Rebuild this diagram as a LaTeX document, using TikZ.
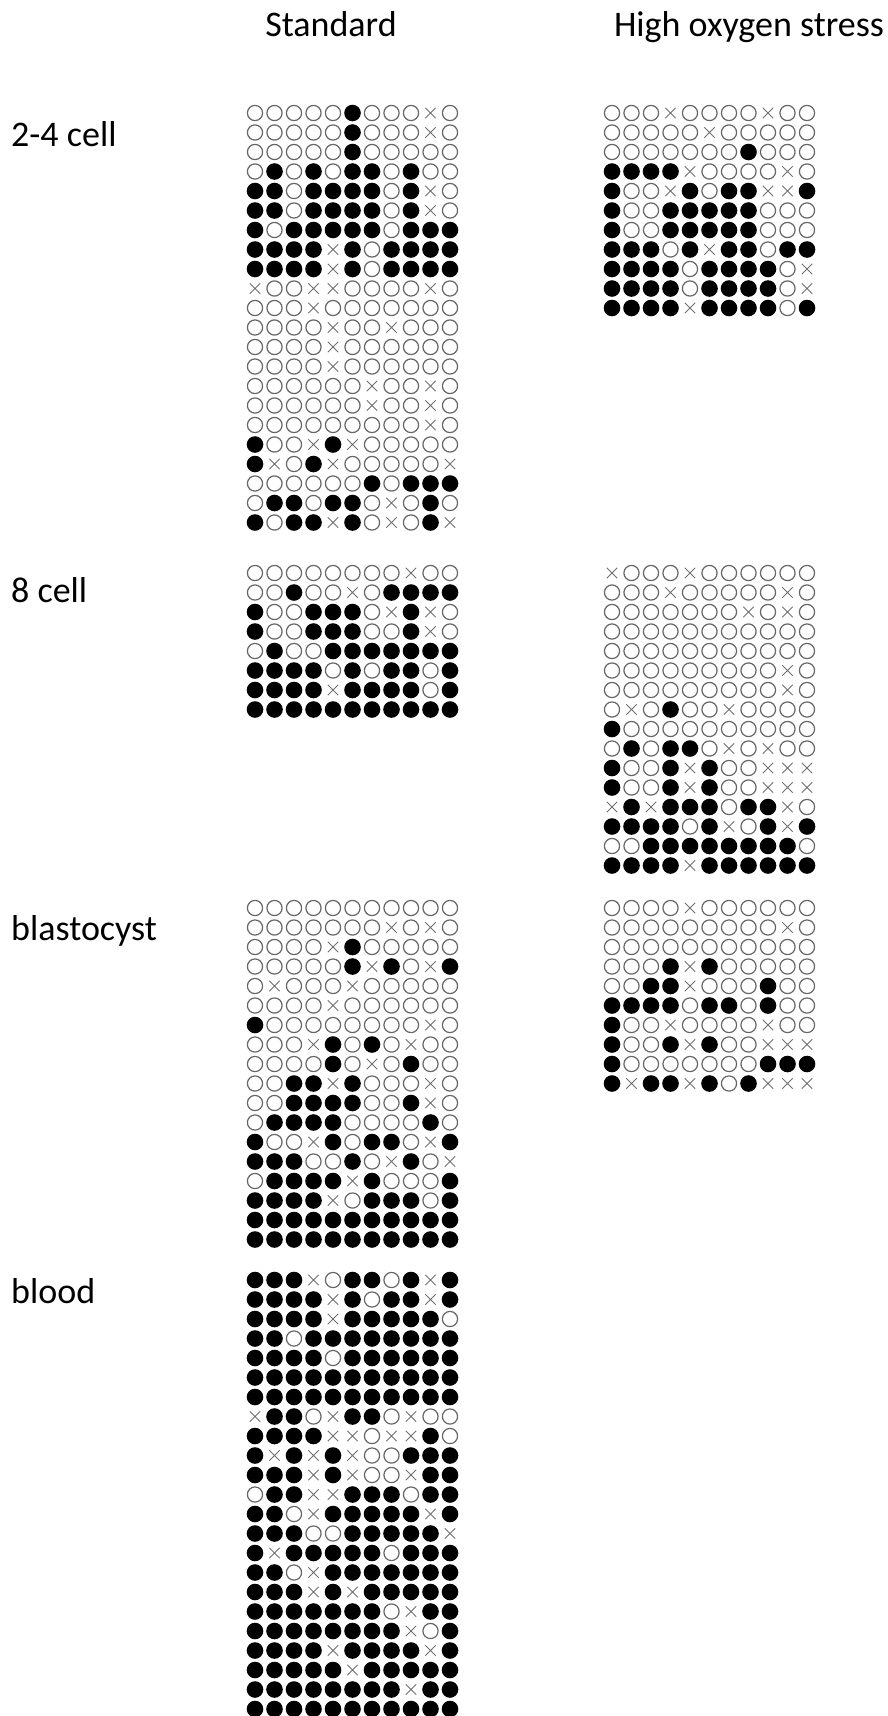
\documentclass[tikz,border=0pt]{standalone}
\usepackage{fontspec}
\setmainfont{Carlito}
\definecolor{ringgray}{HTML}{666666}
\definecolor{crossgray}{HTML}{707070}
\tikzset{
  mo/.pic={\draw[draw=ringgray, line width=1.2pt] (0,0) circle (7.6pt);},
  mb/.pic={\fill[black] (0,0) circle (8.3pt);},
  mx/.pic={\draw[draw=crossgray, line width=0.9pt] (-5.2pt,-5.2pt)--(5.2pt,5.2pt) (-5.2pt,5.2pt)--(5.2pt,-5.2pt);},
  lab/.style={font=\fontsize{36}{43}\selectfont, inner sep=0pt}
}
\newcommand\methgrid[3]{%
  \foreach \r [count=\j from 0] in {#3} {
    \foreach \c [count=\i from 0] in \r {
      \pic at ({#1+\i*19.5},{#2+\j*19.5}) {m\c};
    }
  }%
}
\begin{document}
\begin{tikzpicture}[x=1pt,y=-1pt]
\useasboundingbox (0,0) rectangle (888,1716);
\node[lab, anchor=base] (tstd) at (331,36) {Standard};
\node[lab, anchor=base] (thos) at (749,36) {High oxygen stress};
\node[lab, anchor=base west] (l24) at (11,146) {2-4 cell};
\node[lab, anchor=base west] (l8) at (11,602) {8 cell};
\node[lab, anchor=base west] (lbl) at (11,940) {blastocyst};
\node[lab, anchor=base west] (lbo) at (11,1303) {blood};

% Standard 2-4 cell
\methgrid{255}{113}{
{o,o,o,o,o,b,o,o,o,x,o},
{o,o,o,o,o,b,o,o,o,x,o},
{o,o,o,o,o,b,o,o,o,o,o},
{o,b,o,b,o,b,b,o,b,o,o},
{b,b,o,b,b,b,b,o,b,x,o},
{b,b,o,b,b,b,b,o,b,x,o},
{b,o,b,b,b,b,b,o,b,b,b},
{b,b,b,b,x,b,o,b,b,b,b},
{b,b,b,b,x,b,o,b,b,b,b},
{x,o,o,x,x,o,o,o,o,x,o},
{o,o,o,x,o,o,o,o,o,o,o},
{o,o,o,o,x,o,o,x,o,o,o},
{o,o,o,o,x,o,o,o,o,o,o},
{o,o,o,o,x,o,o,o,o,o,o},
{o,o,o,o,o,o,x,o,o,x,o},
{o,o,o,o,o,o,x,o,o,x,o},
{o,o,o,o,o,o,o,o,o,x,o},
{b,o,o,x,b,x,o,o,o,o,o},
{b,x,o,b,x,o,o,o,o,o,x},
{o,o,o,o,o,o,b,o,b,b,b},
{o,b,b,o,b,b,o,x,o,b,o},
{b,o,b,b,x,b,o,x,o,b,x}}

% High oxygen 2-4 cell
\methgrid{612}{113}{
{o,o,o,x,o,o,o,o,x,o,o},
{o,o,o,o,o,x,o,o,o,o,o},
{o,o,o,o,o,o,o,b,o,o,o},
{b,b,b,b,x,o,o,o,o,x,o},
{b,o,o,x,b,o,b,b,x,x,b},
{b,o,o,b,b,b,b,b,o,o,o},
{b,o,o,b,b,b,b,b,o,o,o},
{b,b,b,o,b,x,b,b,o,b,b},
{b,b,b,b,o,b,b,b,b,o,x},
{b,b,b,b,o,b,b,b,b,o,x},
{b,b,b,b,x,b,b,b,b,o,b}}

% Standard 8 cell
\methgrid{255}{573}{
{o,o,o,o,o,o,o,o,x,o,o},
{o,o,b,o,o,x,o,b,b,b,b},
{b,o,o,b,b,b,o,x,b,x,o},
{b,o,o,b,b,b,o,o,b,x,o},
{o,b,o,o,b,b,b,b,b,b,b},
{b,b,b,b,o,b,o,b,b,o,b},
{b,b,b,b,x,b,b,b,b,o,b},
{b,b,b,b,b,b,b,b,b,b,b}}

% High oxygen 8 cell
\methgrid{612}{573}{
{x,o,o,o,x,o,o,o,o,o,o},
{o,o,o,x,o,o,o,o,o,x,o},
{o,o,o,o,o,o,o,x,o,x,o},
{o,o,o,o,o,o,o,o,o,o,o},
{o,o,o,o,o,o,o,o,o,o,o},
{o,o,o,o,o,o,o,o,o,x,o},
{o,o,o,o,o,o,o,o,o,x,o},
{o,x,o,b,o,o,x,o,o,o,o},
{b,o,o,o,o,o,o,o,o,o,o},
{o,b,o,b,b,o,x,o,x,o,o},
{b,o,o,b,x,b,o,o,x,x,x},
{b,o,o,b,x,b,o,o,x,x,x},
{x,b,x,b,b,b,o,b,b,x,o},
{b,b,b,b,o,b,x,o,b,x,b},
{o,o,b,b,b,b,b,b,b,b,o},
{b,b,b,b,x,b,b,b,b,b,b}}

% Standard blastocyst
\methgrid{255}{908}{
{o,o,o,o,o,o,o,o,o,o,o},
{o,o,o,o,o,o,o,x,o,x,o},
{o,o,o,o,x,b,o,o,o,o,o},
{o,o,o,o,o,b,x,b,o,x,b},
{o,x,o,o,o,x,o,o,o,o,o},
{o,o,o,o,x,o,o,o,o,o,o},
{b,o,o,o,o,o,o,o,o,x,o},
{o,o,o,x,b,o,b,o,x,o,o},
{o,o,o,o,b,o,x,o,b,o,o},
{o,o,b,b,x,b,o,o,o,x,o},
{o,o,b,b,b,b,o,o,b,x,o},
{o,b,b,b,b,o,o,o,o,b,o},
{b,o,o,x,b,o,b,b,o,x,b},
{b,b,b,o,o,b,o,x,b,o,x},
{o,b,b,b,b,x,b,o,o,o,b},
{b,b,b,b,x,o,b,b,b,o,b},
{b,b,b,b,b,b,b,b,b,b,b},
{b,b,b,b,b,b,b,b,b,b,b}}

% High oxygen blastocyst
\methgrid{612}{908}{
{o,o,o,o,x,o,o,o,o,o,o},
{o,o,o,o,o,o,o,o,o,x,o},
{o,o,o,o,o,o,o,o,o,o,o},
{o,o,o,b,x,b,o,o,o,o,o},
{o,o,b,b,x,o,o,o,b,o,o},
{b,b,b,b,o,b,b,o,b,o,o},
{b,o,o,x,o,o,o,o,x,o,o},
{b,o,o,b,x,b,o,o,x,x,x},
{b,o,o,o,o,o,o,o,b,b,b},
{b,x,b,b,x,b,o,b,x,x,x}}

% Standard blood
\methgrid{255}{1280}{
{b,b,b,x,o,b,b,o,b,x,b},
{b,b,b,b,x,b,o,b,b,x,b},
{b,b,b,b,x,b,b,b,b,b,o},
{b,b,o,b,b,b,b,b,b,b,b},
{b,b,b,b,o,b,b,b,b,b,b},
{b,b,b,b,b,b,b,b,b,b,b},
{b,b,b,b,b,b,b,b,b,b,b},
{x,b,b,o,x,b,b,o,x,o,o},
{b,b,b,b,x,x,o,x,x,b,o},
{b,x,b,x,b,x,o,o,b,b,b},
{b,b,b,x,b,x,o,o,x,b,b},
{o,b,b,x,x,b,b,b,o,b,b},
{b,b,o,x,b,b,b,b,b,x,b},
{b,b,b,o,o,b,b,b,b,b,x},
{b,x,b,b,b,b,b,o,b,b,b},
{b,b,o,x,b,b,b,b,b,b,b},
{b,b,b,x,b,x,b,b,b,b,b},
{b,b,b,b,b,b,b,o,x,b,b},
{b,b,b,b,b,b,b,b,x,o,b},
{b,b,b,b,x,b,b,b,b,x,b},
{b,b,b,b,b,x,b,b,b,b,b},
{b,b,b,b,b,b,b,b,x,b,b},
{b,b,b,b,b,b,b,b,b,b,b}}
\end{tikzpicture}
\end{document}
